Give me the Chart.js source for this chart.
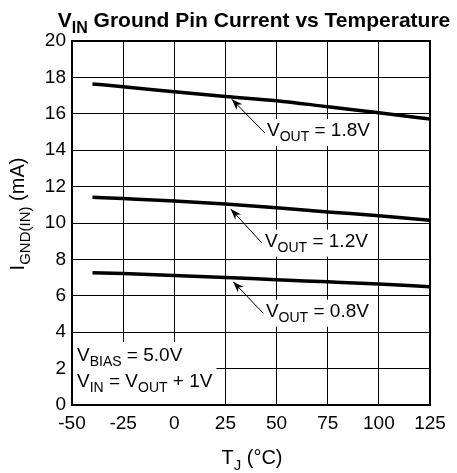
<!DOCTYPE html>
<html>
<head>
<meta charset="utf-8">
<script src="https://cdn.jsdelivr.net/npm/chart.js@4"></script>
<style>
  html, body { margin: 0; padding: 0; background: #fff; }
  #wrap { width: 457px; height: 473px; }
</style>
</head>
<body>
<div id="wrap"><canvas id="grafik" width="457" height="473"></canvas></div>
<script>
// data
const suhu = [-40, -25, 0, 25, 50, 75, 100, 125];
const arus18 = [17.64, 17.49, 17.21, 16.95, 16.72, 16.39, 16.06, 15.71];
const arus12 = [11.41, 11.34, 11.21, 11.04, 10.84, 10.61, 10.40, 10.15];
const arus08 = [7.27, 7.22, 7.12, 7.01, 6.88, 6.77, 6.65, 6.50];
const xTicks = [-50, -25, 0, 25, 50, 75, 100, 125];
const yTicks = [0, 2, 4, 6, 8, 10, 12, 14, 16, 18, 20];

const FONT = '"Liberation Sans", Arial, sans-serif';

// label + arrow, in data units
const catatan = [
    { teks: [['V'], ['OUT', 1], [' = 1.8V']], x: 45.3, y: 14.78, ujung: [28.1, 16.8], pangkal: [44.3, 14.95] },
    { teks: [['V'], ['OUT', 1], [' = 1.2V']], x: 44.3, y: 8.70, ujung: [27.6, 10.77], pangkal: [42.7, 8.92] },
    { teks: [['V'], ['OUT', 1], [' = 0.8V']], x: 44.8, y: 4.85, ujung: [28.8, 6.77], pangkal: [43.5, 5.04] }
];

// draw text with subscript pieces, returns width
function tulis(ctx, parts, x, y, size, bold, ukurSaja) {
    let cx = x;
    parts.forEach(function(p) {
        const sub = p[1];
        const s = sub ? Math.round(size * 0.75) : size;
        ctx.font = (bold ? 'bold ' : '') + s + 'px ' + FONT;
        if (!ukurSaja) ctx.fillText(p[0], cx, sub ? y + size * 0.28 : y);
        cx += ctx.measureText(p[0]).width;
    });
    return cx - x;
}

function panah(ctx, x1, y1, x2, y2) {
    ctx.beginPath();
    ctx.moveTo(x1, y1);
    ctx.lineTo(x2, y2);
    ctx.lineWidth = 1;
    ctx.strokeStyle = '#000';
    ctx.stroke();
    const a = Math.atan2(y2 - y1, x2 - x1);
    const L = 11, W = 4;
    ctx.beginPath();
    ctx.moveTo(x2, y2);
    ctx.lineTo(x2 - L * Math.cos(a) + W * Math.sin(a), y2 - L * Math.sin(a) - W * Math.cos(a));
    ctx.lineTo(x2 - L * 0.7 * Math.cos(a), y2 - L * 0.7 * Math.sin(a));
    ctx.lineTo(x2 - L * Math.cos(a) - W * Math.sin(a), y2 - L * Math.sin(a) + W * Math.cos(a));
    ctx.closePath();
    ctx.fillStyle = '#000';
    ctx.fill();
}

const pluginTeks = {
    id: 'teks',
    afterDatasetsDraw(chart) {
        const ctx = chart.ctx;
        const sx = chart.scales.x, sy = chart.scales.y;
        const a = chart.chartArea;
        ctx.save();
        ctx.textBaseline = 'alphabetic';
        ctx.textAlign = 'left';

        // frame
        ctx.strokeStyle = '#000';
        ctx.lineWidth = 2;
        ctx.strokeRect(a.left, a.top, a.right - a.left, a.bottom - a.top);

        // curve labels
        catatan.forEach(function(c) {
            const px = sx.getPixelForValue(c.x), py = sy.getPixelForValue(c.y);
            const w = tulis(ctx, c.teks, px, py, 19, false, true);
            ctx.fillStyle = '#fff';
            ctx.fillRect(px - 2, py - 17, w + 4, 27);
            ctx.fillStyle = '#000';
            tulis(ctx, c.teks, px, py, 19, false);
            panah(ctx, sx.getPixelForValue(c.pangkal[0]), sy.getPixelForValue(c.pangkal[1]),
                sx.getPixelForValue(c.ujung[0]), sy.getPixelForValue(c.ujung[1]));
        });

        // conditions box
        const b1 = [['V'], ['BIAS', 1], [' = 5.0V']];
        const b2 = [['V'], ['IN', 1], [' = '], ['V'], ['OUT', 1], [' + 1V']];
        const bx = a.left + 5;
        const w1 = tulis(ctx, b1, bx, 0, 19, false, true);
        const w2 = tulis(ctx, b2, bx, 0, 19, false, true);
        ctx.fillStyle = '#fff';
        ctx.fillRect(a.left + 1, 342, w1 + 8, 27);
        ctx.fillRect(a.left + 1, 368, w2 + 8, a.bottom - 369);
        ctx.fillStyle = '#000';
        tulis(ctx, b1, bx, 361, 19, false);
        tulis(ctx, b2, bx, 387, 19, false);

        // title
        const judul = [['V'], ['IN', 1], [' Ground Pin Current vs Temperature']];
        const wj = tulis(ctx, judul, 0, 0, 21, true, true);
        tulis(ctx, judul, 254 - wj / 2, 27, 21, true);

        // x axis title
        const tx = [['T'], ['J', 1], [' (°C)']];
        const wx = tulis(ctx, tx, 0, 0, 20, false, true);
        tulis(ctx, tx, 252 - wx / 2, 464, 20, false);

        // y axis title
        const ty = [['I'], ['GND(IN)', 1], [' (mA)']];
        const wy = tulis(ctx, ty, 0, 0, 20, false, true);
        ctx.translate(24, 214);
        ctx.rotate(-Math.PI / 2);
        tulis(ctx, ty, -wy / 2, 0, 20, false);
        ctx.restore();
    }
};

function seri(label, nilai) {
    return {
        label: label,
        data: suhu.map(function(t, i) { return { x: t, y: nilai[i] }; }),
        borderColor: '#000',
        borderWidth: 3.5,
        pointRadius: 0,
        cubicInterpolationMode: 'monotone',
        fill: false
    };
}

let grafik = new Chart(document.getElementById('grafik').getContext('2d'), {
    type: 'line',
    data: {
        datasets: [
            seri('VOUT = 1.8V', arus18),
            seri('VOUT = 1.2V', arus12),
            seri('VOUT = 0.8V', arus08)
        ]
    },
    options: {
        responsive: false,
        animation: false,
        layout: { padding: { left: 0, top: 41, right: 27, bottom: 0 } },
        plugins: {
            legend: { display: false },
            tooltip: { enabled: false }
        },
        scales: {
            x: {
                type: 'linear',
                min: -50,
                max: 125,
                afterBuildTicks: function(scale) {
                    scale.ticks = xTicks.map(function(v) { return { value: v }; });
                },
                afterFit: function(scale) { scale.height = 68; },
                grid: { color: '#000', lineWidth: 1, drawTicks: false },
                border: { display: false },
                ticks: { color: '#000', padding: 7, maxRotation: 0, font: { family: FONT, size: 19 } }
            },
            y: {
                min: 0,
                max: 20,
                afterBuildTicks: function(scale) {
                    scale.ticks = yTicks.map(function(v) { return { value: v }; });
                },
                afterFit: function(scale) { scale.width = 72; },
                grid: { color: '#000', lineWidth: 1, drawTicks: false },
                border: { display: false },
                ticks: { color: '#000', padding: 6, font: { family: FONT, size: 19 } }
            }
        }
    },
    plugins: [pluginTeks]
});
</script>
</body>
</html>
